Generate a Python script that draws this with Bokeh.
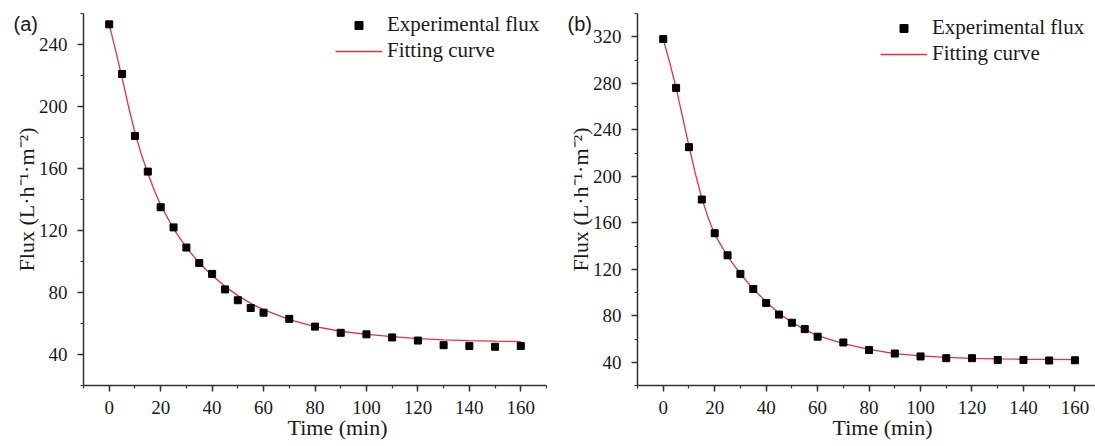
from bokeh.plotting import figure
from bokeh.layouts import row
from bokeh.models import (SingleIntervalTicker, Legend, LegendItem, Range1d,
                          ColumnDataSource, Title)
from bokeh.embed import file_html
from bokeh.resources import INLINE

# ---------------- data ----------------
time_min = [0, 5, 10, 15, 20, 25, 30, 35, 40, 45, 50, 55, 60,
            70, 80, 90, 100, 110, 120, 130, 140, 150, 160]
flux_a = [253, 221, 181, 158, 135, 122, 109, 99, 92, 82, 75, 70, 67,
          63, 58, 54, 53, 51, 49, 46, 45.5, 45, 45.5]
flux_b = [318, 276, 225, 180, 151, 132, 116, 103, 91, 81, 74, 68.5, 62,
          57, 50.5, 47.5, 45, 43.5, 43.5, 42, 42, 41.5, 41.7]

fit_time = [0, 2.5, 5, 7.5, 10, 12.5, 15, 17.5, 20, 25, 30, 35, 40, 45, 50, 55, 60,
            70, 80, 90, 100, 110, 120, 130, 140, 150, 160]
fit_a = [253, 236, 218.5, 200, 183, 169, 157, 146, 136.5, 121, 109, 99, 91, 84, 78, 73, 69,
         62.5, 58, 55, 53, 51.5, 50.3, 49.5, 49, 48.6, 48.3]
fit_b = [318, 298, 276, 251, 226, 202, 181, 164, 150, 131, 116, 103, 92, 82, 74.5, 68, 63,
         56, 51, 47.5, 45.5, 44.2, 43.4, 42.9, 42.6, 42.4, 42.3]

x_label = "Time (min)"
y_label = "Flux (L\u00b7h\u207b\u00b9\u00b7m\u207b\u00b2)"
legend_labels = ["Experimental flux", "Fitting curve"]
panel_tags = ["(a)", "(b)"]

SERIF = "Liberation Serif"
SANS = "Liberation Sans"
TXT = "#1a1a1a"
AX = "#333333"
RED = "#e8303a"


def make_panel(width, border_left, border_right, x_end, y_end,
               flux, fit, tag, xlabel_offset, legend_loc):
    p = figure(width=width, height=446, output_backend="svg", toolbar_location=None,
               x_range=Range1d(-10, x_end), y_range=Range1d(20, y_end),
               min_border_left=border_left, min_border_right=border_right,
               min_border_top=13, min_border_bottom=61)
    p.outline_line_color = None
    p.xgrid.visible = False
    p.ygrid.visible = False
    p.background_fill_color = "white"
    p.border_fill_color = "white"

    # panel tag placed in the top-left corner, left of the y axis
    p.title.text = tag
    p.title.align = "left"
    p.title.offset = -70
    p.title.standoff = -43
    p.title.vertical_align = "bottom"
    p.title.text_font = SANS
    p.title.text_font_size = "20px"
    p.title.text_font_style = "normal"
    p.title.text_color = TXT

    p.xaxis.ticker = SingleIntervalTicker(interval=20, num_minor_ticks=2)
    p.yaxis.ticker = SingleIntervalTicker(interval=40, num_minor_ticks=2)
    for ax in (p.xaxis, p.yaxis):
        ax.axis_line_color = AX
        ax.axis_line_width = 1.5
        ax.major_tick_line_color = AX
        ax.major_tick_line_width = 1.5
        ax.minor_tick_line_color = AX
        ax.minor_tick_line_width = 1.2
        ax.major_tick_in = 0
        ax.major_tick_out = 6
        ax.minor_tick_in = 0
        ax.minor_tick_out = 3
        ax.major_label_text_font = SERIF
        ax.major_label_text_font_size = "19px"
        ax.major_label_text_color = TXT
    p.yaxis.major_label_standoff = 10
    p.xaxis.major_label_standoff = 9
    p.yaxis.axis_label = y_label
    p.yaxis.axis_label_text_font = SERIF
    p.yaxis.axis_label_text_font_size = "22px"
    p.yaxis.axis_label_text_font_style = "normal"
    p.yaxis.axis_label_text_color = TXT
    p.yaxis.axis_label_standoff = -3

    p.add_layout(Title(text=x_label, align="left", offset=xlabel_offset,
                       vertical_align="top", standoff=-4,
                       text_font=SERIF, text_font_size="22px",
                       text_font_style="normal", text_color=TXT), "below")

    src_pts = ColumnDataSource(dict(t=time_min, f=flux))
    src_fit = ColumnDataSource(dict(t=fit_time, f=fit))
    ln = p.line("t", "f", source=src_fit, line_color=RED, line_width=1.3)
    sq = p.scatter("t", "f", source=src_pts, marker="square", size=7,
                   fill_color="black", line_color="black")

    legend = Legend(items=[LegendItem(label=legend_labels[0], renderers=[sq]),
                           LegendItem(label=legend_labels[1], renderers=[ln])],
                    location=legend_loc, glyph_width=47, glyph_height=20,
                    label_height=20, label_standoff=5, padding=0, margin=0,
                    spacing=1, border_line_alpha=0, background_fill_alpha=0,
                    label_text_font=SERIF, label_text_font_size="21px",
                    label_text_color=TXT)
    p.add_layout(legend)
    return p


p1 = make_panel(548, 83, 2, 170, 260, flux_a, fit_a, panel_tags[0], 204, (252, 322))
p2 = make_panel(547, 89, 0, 168, 340, flux_b, fit_b, panel_tags[1], 195, (243, 319))

layout = row(p1, p2)
open("out.html", "w").write(file_html(layout, INLINE))
